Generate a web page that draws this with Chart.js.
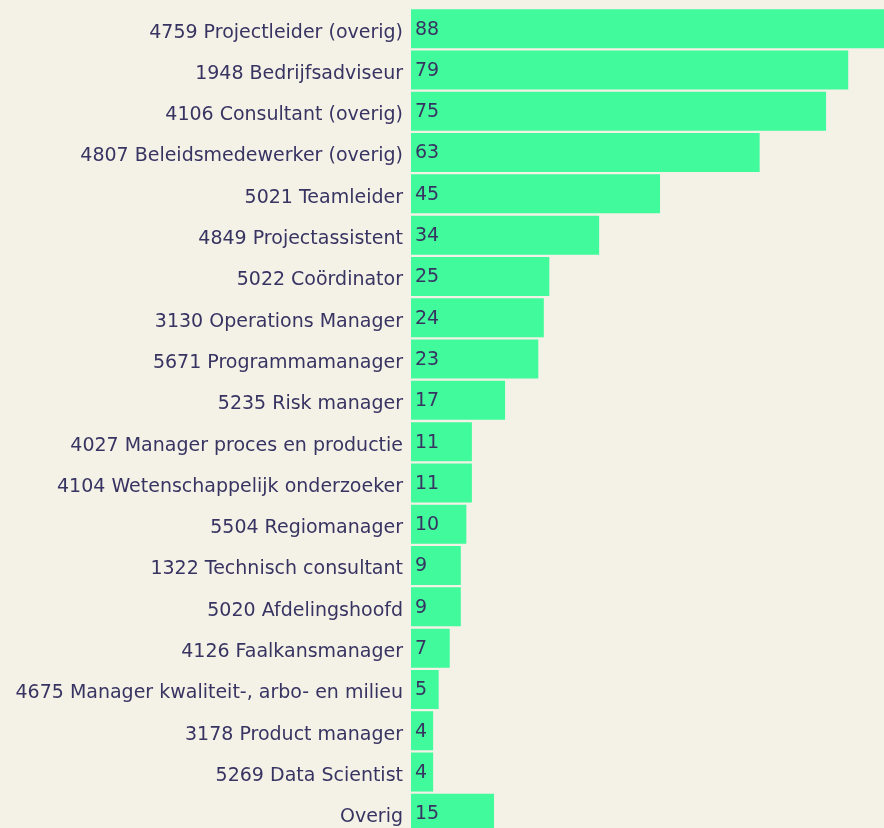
<!DOCTYPE html>
<html>
<head>
<meta charset="utf-8">
<script src="https://cdn.jsdelivr.net/npm/chart.js@4"></script>
<style>
  html, body { margin: 0; padding: 0; background: #f4f1e7; overflow: hidden; }
  #wrap { width: 898px; height: 834px; position: relative; }
</style>
</head>
<body>
<div id="wrap"><canvas id="beroepenChart"></canvas></div>
<script>
const beroepen = [
    '4759 Projectleider (overig)',
    '1948 Bedrijfsadviseur',
    '4106 Consultant (overig)',
    '4807 Beleidsmedewerker (overig)',
    '5021 Teamleider',
    '4849 Projectassistent',
    '5022 Coördinator',
    '3130 Operations Manager',
    '5671 Programmamanager',
    '5235 Risk manager',
    '4027 Manager proces en productie',
    '4104 Wetenschappelijk onderzoeker',
    '5504 Regiomanager',
    '1322 Technisch consultant',
    '5020 Afdelingshoofd',
    '4126 Faalkansmanager',
    '4675 Manager kwaliteit-, arbo- en milieu',
    '3178 Product manager',
    '5269 Data Scientist',
    'Overig'
];
const aantallen = [88, 79, 75, 63, 45, 34, 25, 24, 23, 17, 11, 11, 10, 9, 9, 7, 5, 4, 4, 15];

const tekstKleur = '#383462';
const lettertype = "'DejaVu Sans', 'Open Sans', sans-serif";

// waarde links in de balk schrijven
const waardeLabels = {
    id: 'waardeLabels',
    afterDatasetsDraw(chart) {
        const ctx = chart.ctx;
        const meta = chart.getDatasetMeta(0);
        ctx.save();
        ctx.fillStyle = tekstKleur;
        ctx.font = '19px ' + lettertype;
        ctx.textAlign = 'left';
        ctx.textBaseline = 'middle';
        meta.data.forEach((bar, i) => {
            ctx.fillText(aantallen[i], bar.base + 4, bar.y + 1);
        });
        ctx.restore();
    }
};

const ctx = document.getElementById('beroepenChart').getContext('2d');
const myChart = new Chart(ctx, {
    type: 'bar',
    data: {
        labels: beroepen,
        datasets: [{
            data: aantallen,
            backgroundColor: '#41fa9c',
            borderWidth: 0,
            barPercentage: 0.945,
            categoryPercentage: 1
        }]
    },
    options: {
        indexAxis: 'y',
        responsive: true,
        maintainAspectRatio: false,
        animation: false,
        layout: { padding: { top: 8, left: 0, right: 0, bottom: 0 } },
        plugins: {
            legend: { display: false },
            tooltip: { enabled: false }
        },
        scales: {
            x: {
                display: false,
                min: 0,
                max: 88
            },
            y: {
                afterFit(scale) {
                    scale.width = 411;
                    scale.paddingTop = 0;
                    scale.paddingBottom = 0;
                },
                grid: { display: false, drawTicks: false },
                border: { display: false },
                ticks: {
                    color: tekstKleur,
                    padding: 8,
                    labelOffset: 4,
                    font: { family: lettertype, size: 19 }
                }
            }
        }
    },
    plugins: [waardeLabels]
});
</script>
</body>
</html>
